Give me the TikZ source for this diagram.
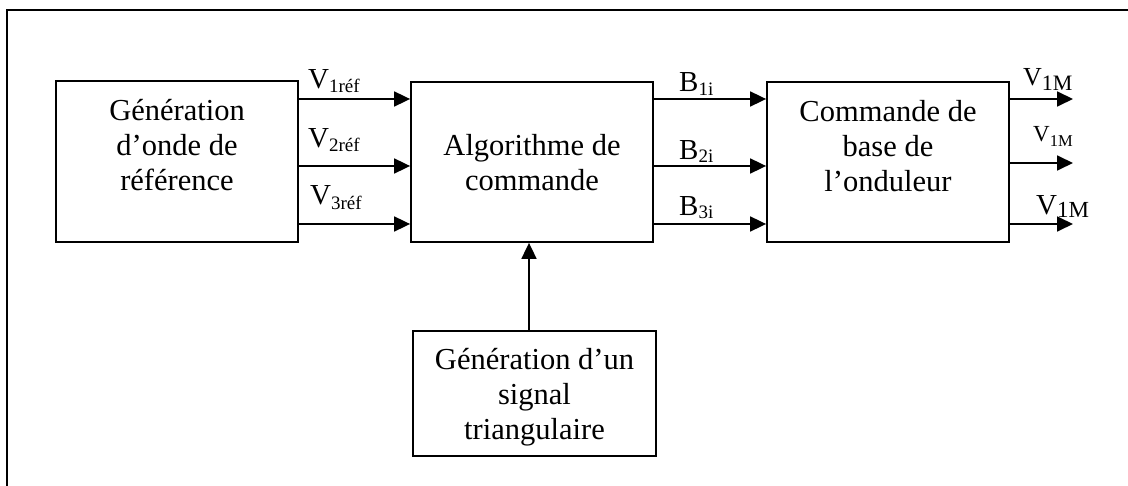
\documentclass[tikz,border=0pt]{standalone}
\usepackage{fontspec}
\setmainfont{Liberation Serif}
\usetikzlibrary{arrows.meta}
\tikzset{
  blockbox/.style={draw, line width=1.8pt, minimum width=242pt, inner sep=0pt},
  boxtext/.style={align=center, inner sep=0pt, anchor=north, font=\fontsize{30.5}{35}\selectfont},
  sig/.style={line width=1.8pt, -{Triangle[length=16pt,width=15pt]}},
  lab/.style={anchor=base west, inner sep=0pt},
  frameline/.style={line width=2pt}
}
\begin{document}
\begin{tikzpicture}[x=1pt,y=-1pt]
\useasboundingbox (0,0) rectangle (1128,486);
\coordinate (fTL) at (7,10);
\coordinate (fTR) at (1128,10);
\coordinate (fBL) at (7,486);
\draw[frameline] (fBL) -- (fTL) -- (fTR);

% blocks
\node[blockbox, minimum height=161pt] (A) at (177,161.5) {};
\node[blockbox, minimum height=160pt] (B) at (532,162) {};
\node[blockbox, minimum height=160pt] (C) at (888,162) {};
\node[blockbox, minimum width=243pt, minimum height=125pt] (D) at (534.5,393.5) {};

% texts
\node[boxtext] (tA) at (177,99) {Génération\\d’onde de\\référence};
\node[boxtext] (tB) at (532,134) {Algorithme de\\commande};
\node[boxtext] (tC) at (888,100) {Commande de\\base de\\l’onduleur};
\node[boxtext] (tD) at (534.5,348) {Génération d’un\\signal\\triangulaire};

% connectors A -> B
\draw[sig] (A.east |- 0,99) -- (B.west |- 0,99);
\draw[sig] (A.east |- 0,166) -- (B.west |- 0,166);
\draw[sig] (A.east |- 0,224) -- (B.west |- 0,224);
% B -> C
\draw[sig] (B.east |- 0,99) -- (C.west |- 0,99);
\draw[sig] (B.east |- 0,166) -- (C.west |- 0,166);
\draw[sig] (B.east |- 0,224) -- (C.west |- 0,224);
% C outputs
\coordinate (o1) at (1073,99);
\coordinate (o2) at (1073,163);
\coordinate (o3) at (1073,224);
\draw[sig] (C.east |- o1) -- (o1);
\draw[sig] (C.east |- o2) -- (o2);
\draw[sig] (C.east |- o3) -- (o3);
% D -> B
\draw[sig] (D.north -| 529,0) -- (B.south -| 529,0);

% labels
\node[lab] (l1) at (308,89) {\fontsize{29}{29}\selectfont V\fontsize{19}{19}\selectfont\raisebox{-4pt}{1réf}};
\node[lab] (l2) at (308,148) {\fontsize{29}{29}\selectfont V\fontsize{19}{19}\selectfont\raisebox{-4pt}{2réf}};
\node[lab] (l3) at (310,205) {\fontsize{29}{29}\selectfont V\fontsize{19}{19}\selectfont\raisebox{-5pt}{3réf}};

\node[lab] (b1) at (679,92) {\fontsize{29}{29}\selectfont B\fontsize{19}{19}\selectfont\raisebox{-4pt}{1i}};
\node[lab] (b2) at (679,160) {\fontsize{29}{29}\selectfont B\fontsize{19}{19}\selectfont\raisebox{-3pt}{2i}};
\node[lab] (b3) at (679,216) {\fontsize{29}{29}\selectfont B\fontsize{19}{19}\selectfont\raisebox{-3pt}{3i}};

\node[lab] (m1) at (1023,86) {\fontsize{26}{26}\selectfont V\fontsize{22}{22}\selectfont\raisebox{-5pt}{1M}};
\node[lab] (m2) at (1033,142) {\fontsize{23}{23}\selectfont V\fontsize{16.5}{16.5}\selectfont\raisebox{-5pt}{1M}};
\node[lab] (m3) at (1036,215) {\fontsize{29}{29}\selectfont V\fontsize{23}{23}\selectfont\raisebox{-3pt}{1M}};
\end{tikzpicture}
\end{document}
